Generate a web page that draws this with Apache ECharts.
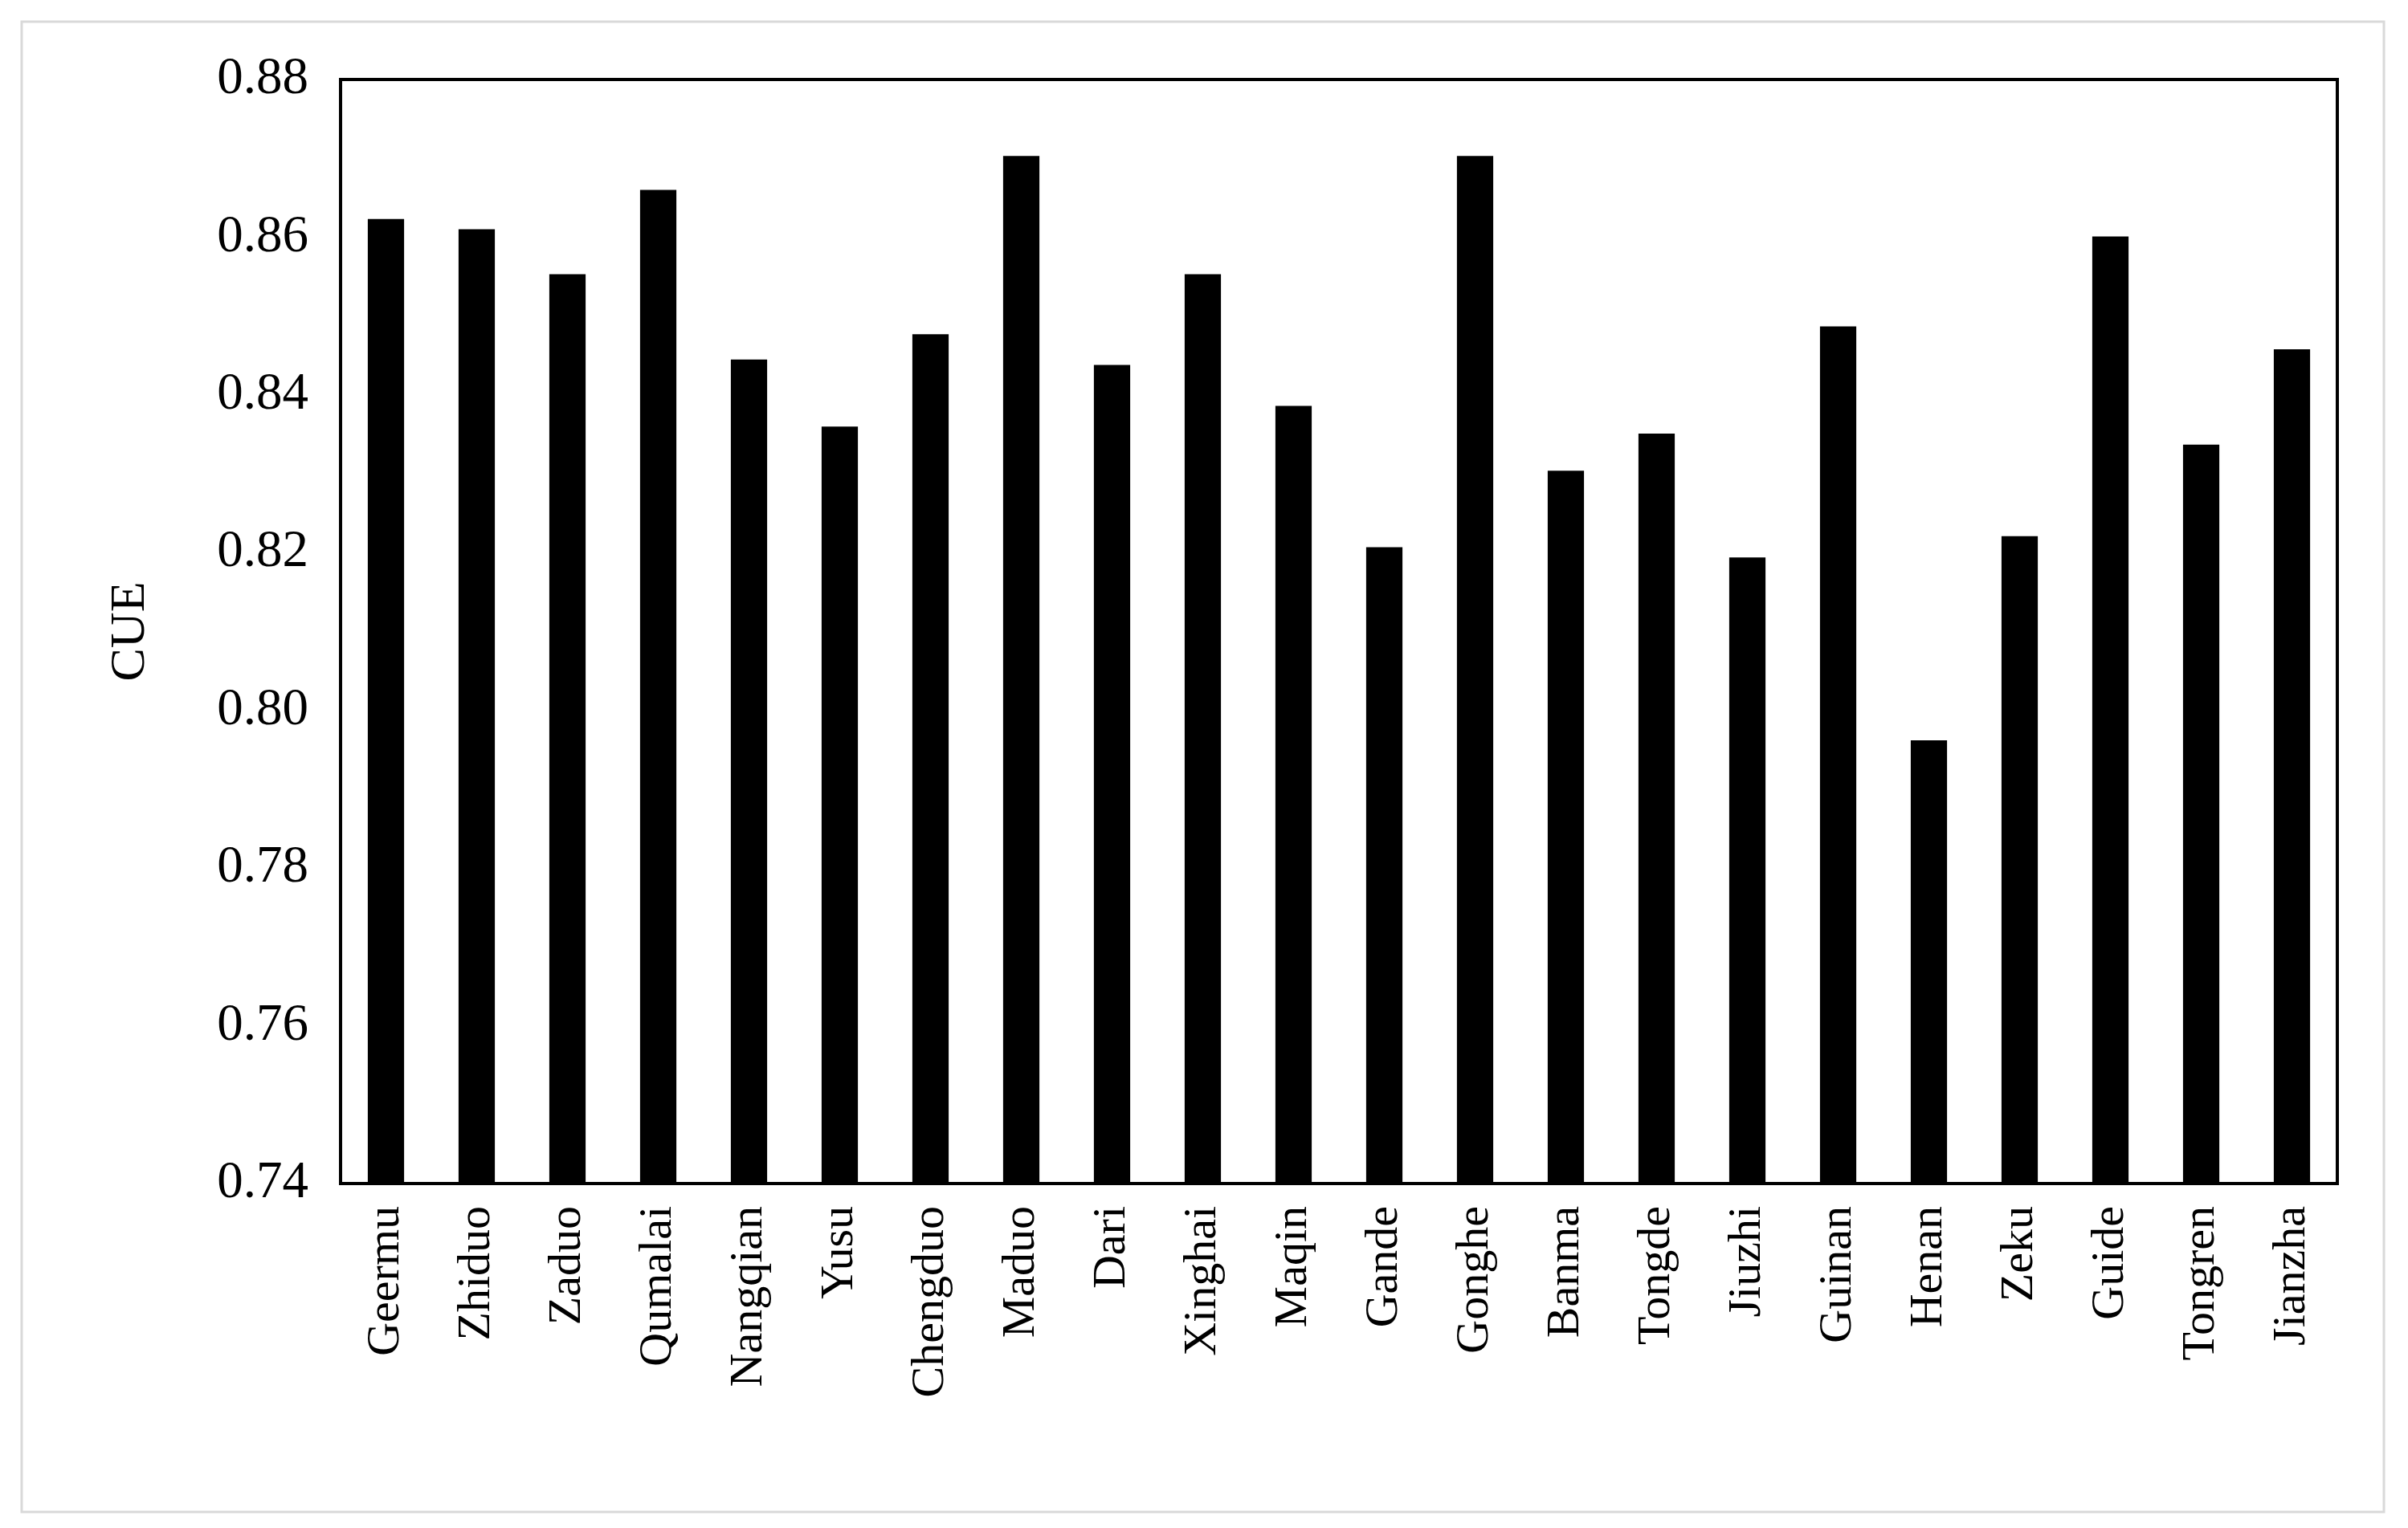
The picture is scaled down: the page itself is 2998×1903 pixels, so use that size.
<!DOCTYPE html>
<html><head><meta charset="utf-8">
<script src="https://cdn.jsdelivr.net/npm/echarts@6/dist/echarts.min.js"></script>
<style>html,body{margin:0;padding:0;background:#fff}#c{width:2998px;height:1903px}</style>
</head><body><div id="c"></div>
<script>
const categories=["Geermu","Zhiduo","Zaduo","Qumalai","Nangqian","Yusu","Chengduo","Maduo","Dari","Xinghai","Maqin","Gande","Gonghe","Banma","Tongde","Jiuzhi","Guinan","Henan","Zeku","Guide","Tongren","Jianzha"];
const cueValues=[0.8623,0.8610,0.8553,0.8660,0.8445,0.8360,0.8477,0.8703,0.8438,0.8553,0.8386,0.8207,0.8703,0.8304,0.8351,0.8194,0.8487,0.7962,0.8221,0.8601,0.8337,0.8458];
const chart=echarts.init(document.getElementById('c'));
const font='Liberation Serif';
chart.setOption({
  animation:false,
  graphic:[{type:'rect',shape:{x:27,y:27,width:2941,height:1856},style:{fill:'none',stroke:'#d9d9d9',lineWidth:3}}],
  grid:{left:424,right:88,top:99,bottom:429},
  xAxis:{type:'category',data:categories,
    axisLine:{lineStyle:{color:'#000',width:4}},axisTick:{show:false},
    axisLabel:{rotate:90,color:'#000',fontFamily:font,fontSize:58,margin:28,interval:0}},
  yAxis:{type:'value',min:0.74,max:0.88,interval:0.02,name:'CUE',nameLocation:'middle',nameGap:230,
    nameTextStyle:{color:'#000',fontFamily:font,fontSize:62},
    axisLine:{show:true,lineStyle:{color:'#000',width:4}},axisTick:{show:false},splitLine:{show:false},
    axisLabel:{color:'#000',fontFamily:font,fontSize:65,margin:40,formatter:v=>v.toFixed(2)}},
  series:[{type:'bar',data:cueValues,barWidth:'40%',itemStyle:{color:'#000'}},
    {type:'line',data:[],markLine:{}}]
});
</script>
<script>
// draw top and right plot border via graphic using grid position
const ch=echarts.getInstanceByDom(document.getElementById('c'));
ch.setOption({graphic:[{type:'rect',shape:{x:27,y:27,width:2941,height:1856},style:{fill:'none',stroke:'#d9d9d9',lineWidth:3}},
 {type:'rect',shape:{x:424,y:99,width:2998-424-88,height:1903-99-429},style:{fill:'none',stroke:'#000',lineWidth:4}}]});
</script>
</body></html>
